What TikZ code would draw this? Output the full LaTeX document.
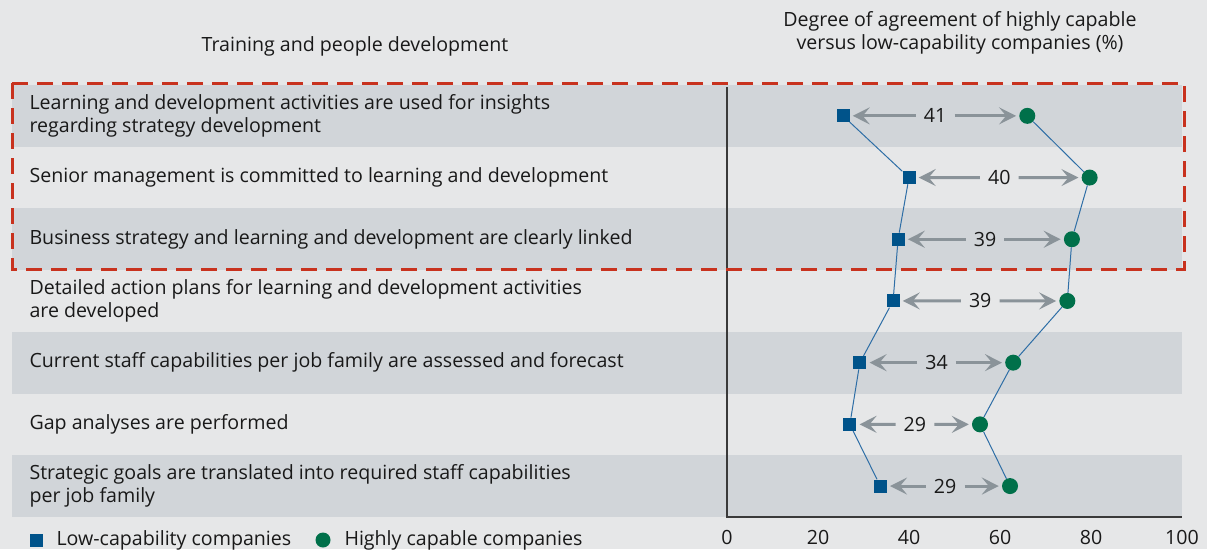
\documentclass[tikz,border=0pt]{standalone}
\usepackage{fontspec}
\setmainfont{Open Sans}
\usetikzlibrary{arrows.meta}
\usetikzlibrary{calc}
\definecolor{bgGray}{HTML}{E6E7E8}
\definecolor{stripeGray}{HTML}{D1D5D9}
\definecolor{lowBlue}{HTML}{00538A}
\definecolor{highGreen}{HTML}{00704A}
\definecolor{trendBlue}{HTML}{2E6EA6}
\definecolor{gapGray}{HTML}{8A9399}
\definecolor{frameRed}{HTML}{C8321E}
\definecolor{axisGray}{HTML}{3A3A3A}
\tikzset{
    every node/.style={font=\fontsize{19.6}{23.5}\selectfont, text=black!90},
    low mark/.style={fill=lowBlue, minimum size=13pt, inner sep=0pt},
    high mark/.style={circle, fill=highGreen, minimum size=16pt, inner sep=0pt},
    gap value/.style={inner xsep=8pt, inner ysep=2pt},
    gap arrow/.style={-{Stealth[length=17pt, width=17pt, inset=7pt]}, gapGray,
        line width=3pt, shorten >=3pt},
    trend/.style={trendBlue, line width=1pt},
    row label/.style={anchor=west, align=left},
    axis line/.style={axisGray, line width=1.5pt},
    frame/.style={frameRed, line width=3pt, dash pattern=on 16pt off 9pt},
}

\begin{document}
\begin{tikzpicture}[x=1pt, y=-1pt]

    \def\xA{727} \def\xS{4.55}   % axis origin, px per percent
    \def\rT{85} \def\rH{61.7}    % first row top, row height

    \useasboundingbox (0,0) rectangle (1207,549);
    \fill[bgGray] (0,0) rectangle (1207,549);

    % stripes
    \foreach \r in {0,2,4,6}{
        \fill[stripeGray] (12,\rT+\r*\rH) rectangle (1182,\rT+\r*\rH+\rH);
    }

    % headers
    \node (hL) at (355,46) {Training and people development};
    \node[align=center] (hR) at (960,33)
        {Degree of agreement of highly capable\\versus low-capability companies (\%)};

    % row texts
    \foreach \i/\txt in {
        1/{Learning and development activities are used for insights\\regarding strategy development},
        2/{Senior management is committed to learning and development},
        3/{Business strategy and learning and development are clearly linked},
        4/{Detailed action plans for learning and development activities\\are developed},
        5/{Current staff capabilities per job family are assessed and forecast},
        6/{Gap analyses are performed},
        7/{Strategic goals are translated into required staff capabilities\\per job family}}{
        \node[row label] (t\i) at (26,\rT+\i*\rH-\rH/2) {\txt};
    }

    % axes
    \draw[axis line] (\xA,87) -- (\xA,517) -- (1182,517);
    \foreach \t in {0,20,...,100}{
        \node (x\t) at (\xA+\t*\xS,537) {\t};
    }

    % data
    \foreach \i/\lo/\hi/\d in {1/25.5/66/41, 2/40/79.7/40, 3/37.6/75.8/39,
        4/36.5/74.8/39, 5/29.2/62.9/34, 6/27/55.6/29, 7/33.7/62.2/29}{
        \node[low mark] (lo\i) at (\xA+\lo*\xS,\rT+\i*\rH-\rH/2) {};
        \node[high mark] (hi\i) at (\xA+\hi*\xS,\rT+\i*\rH-\rH/2) {};
        \node[gap value] (d\i) at ($(lo\i)!0.5!(hi\i)$) {\d};
        \draw[gap arrow] (d\i) -- (lo\i);
        \draw[gap arrow] (d\i) -- (hi\i);
    }
    \foreach \i [remember=\i as \j (initially 1)] in {2,...,7}{
        \draw[trend] (lo\j) -- (lo\i);
        \draw[trend] (hi\j) -- (hi\i);
    }

    % highlighted block
    \draw[frame] (12,83) rectangle (1184,269);

    % legend
    \node[low mark] (kLo) at (36,540) {};
    \node[anchor=west] (kLoT) at (53,540) {Low-capability companies};
    \node[high mark, minimum size=15pt] (kHi) at (323,540) {};
    \node[anchor=west] (kHiT) at (341,540) {Highly capable companies};

\end{tikzpicture}
\end{document}
